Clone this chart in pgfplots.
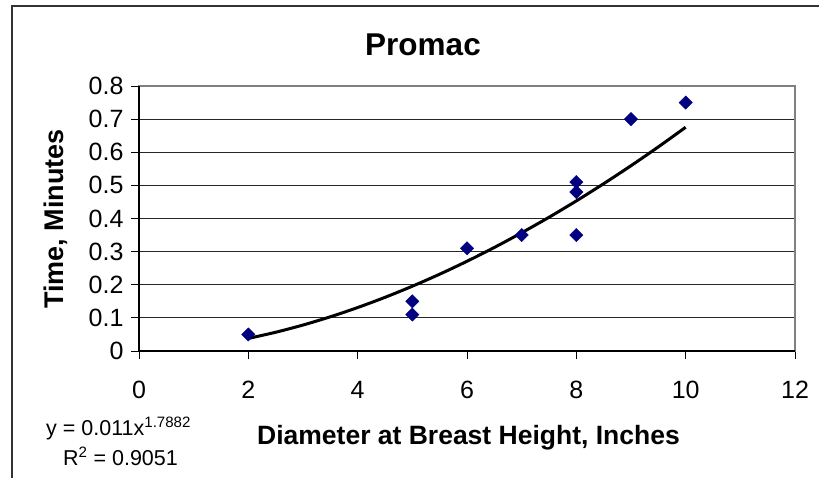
\documentclass[border=0pt]{standalone}
\usepackage{fontspec}
\setmainfont{Liberation Sans}
\usepackage{pgfplots}
\pgfplotsset{compat=1.18}
\definecolor{navymark}{HTML}{000080}
\begin{document}
\begin{tikzpicture}
\useasboundingbox (0pt,0pt) rectangle (819pt,477pt);
\draw[black!80, line width=1.3pt] (12pt,-2pt) -- (12pt,471pt) -- (822pt,471pt);
\begin{axis}[
  at={(139pt,126pt)}, anchor=south west,
  width=656pt, height=265pt, scale only axis,
  xmin=0, xmax=12, ymin=0, ymax=0.8,
  xtick={0,2,...,12}, ytick={0,0.1,...,0.8},
  xtick pos=bottom, ytick pos=left,
  tick align=outside, major tick length=8pt,
  tick style={black, line width=1pt},
  axis line style={black!50, line width=1.5pt},
  ymajorgrids, grid style={black!85, line width=1pt},
  /pgf/number format/assume math mode=true,
  yticklabel={\pgfmathprintnumber[fixed,precision=1]{\tick}},
  ticklabel style={font=\fontsize{25pt}{29pt}\selectfont},
  xticklabel style={yshift=-19pt},
  yticklabel style={xshift=-4pt},
  clip=false,
]
\addplot[only marks, mark=square*, mark size=4.7pt, mark options={rotate=45, fill=navymark, draw=navymark}] coordinates {
(2,0.05) (5,0.15) (5,0.11) (6,0.31) (7,0.35) (8,0.51) (8,0.48) (8,0.35) (9,0.70) (10,0.75)
};
\addplot[black, line width=3pt, smooth, no marks] coordinates {
(2,0.0380) (2.5,0.0566) (3,0.0784) (3.5,0.1033) (4,0.1312) (4.5,0.1620) (5,0.1956) (5.5,0.2319) (6,0.2709) (6.5,0.3126) (7,0.3570) (7.5,0.4037) (8,0.4531) (8.5,0.5051) (9,0.5594) (9.5,0.6162) (10,0.6755)
};
\draw[black, line width=1.5pt] (rel axis cs:0,1) -- (rel axis cs:0,0) -- (rel axis cs:1,0);
\end{axis}
\node[font=\fontsize{31.5pt}{36pt}\selectfont\bfseries, anchor=base] at (423pt,421pt) {Promac};
\node[font=\fontsize{26.5pt}{30pt}\selectfont\bfseries, anchor=base, inner sep=0pt] at (468.5pt,33pt) {Diameter at Breast Height, Inches};
\node[font=\fontsize{27pt}{30pt}\selectfont\bfseries, anchor=base, rotate=90, inner sep=0pt] at (63pt,258pt) {Time, Minutes};
\node[font=\fontsize{21.5pt}{25pt}\selectfont, anchor=base west, inner sep=0pt] at (46pt,42pt) {y = 0.011x\textsuperscript{1.7882}};
\node[font=\fontsize{21.5pt}{25pt}\selectfont, anchor=base west, inner sep=0pt] at (63pt,12pt) {R\textsuperscript{2} = 0.9051};
\end{tikzpicture}
\end{document}
